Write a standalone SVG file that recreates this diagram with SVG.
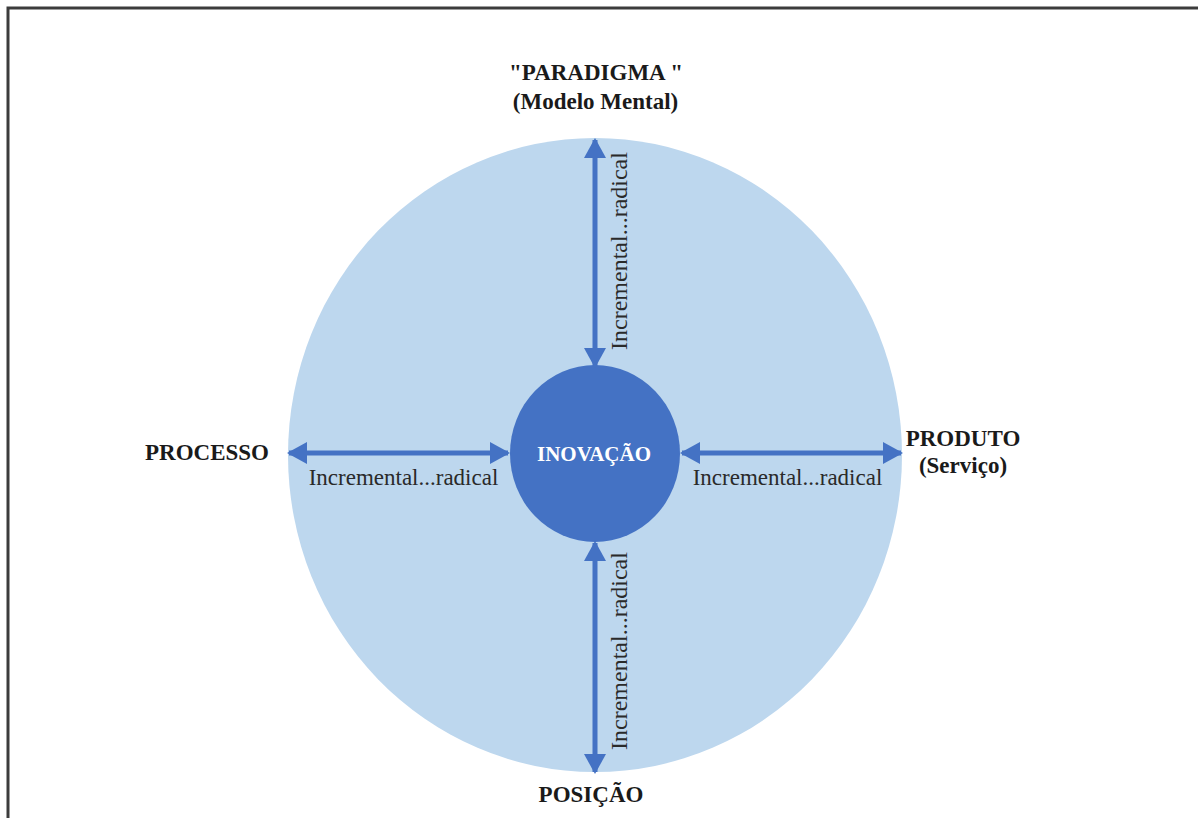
<svg xmlns="http://www.w3.org/2000/svg" width="1198" height="818" viewBox="0 0 1198 818">
  <style>
    .lbl { font-family: "Liberation Serif", "Times New Roman", serif; font-weight: bold; font-size: 23px; fill: #1a1a1a; text-anchor: middle; }
    .scale { font-family: "Liberation Serif", "Times New Roman", serif; font-size: 23px; fill: #2a2a2a; text-anchor: middle; }
    .vscale { font-size: 24px; }
    .core { font-family: "Liberation Serif", "Times New Roman", serif; font-weight: bold; font-size: 21px; fill: #ffffff; text-anchor: middle; }
    .axis { stroke: #4472C4; stroke-width: 5; fill: none; }
  </style>
  <defs>
    <marker id="head" viewBox="0 0 20 22" refX="18" refY="11" markerWidth="20" markerHeight="22" markerUnits="userSpaceOnUse" orient="auto-start-reverse">
      <path d="M0,0 L20,11 L0,22 Z" fill="#4472C4"/>
    </marker>
  </defs>

  <rect width="1198" height="818" fill="#ffffff"/>
  <!-- frame (top and left edges) -->
  <path d="M8,818 V8 H1198" fill="none" stroke="#3c3c3c" stroke-width="3"/>

  <g id="field">
    <ellipse cx="595" cy="455" rx="307" ry="317" fill="#BDD7EE"/>
  </g>

  <g id="inovacao">
    <ellipse cx="595" cy="453.5" rx="85" ry="88.5" fill="#4472C4"/>
    <text class="core" x="594" y="461">INOVAÇÃO</text>
  </g>

  <g id="connectors">
    <line class="axis" x1="595" y1="140" x2="595" y2="366" marker-start="url(#head)" marker-end="url(#head)"/>
    <line class="axis" x1="595" y1="543" x2="595" y2="772" marker-start="url(#head)" marker-end="url(#head)"/>
    <line class="axis" x1="289" y1="453" x2="508" y2="453" marker-start="url(#head)" marker-end="url(#head)"/>
    <line class="axis" x1="682" y1="453" x2="901" y2="453" marker-start="url(#head)" marker-end="url(#head)"/>
    <text class="scale vscale" transform="translate(627,251) rotate(-90)">Incremental...radical</text>
    <text class="scale vscale" transform="translate(627,651) rotate(-90)">Incremental...radical</text>
    <text class="scale" x="403.5" y="485">Incremental...radical</text>
    <text class="scale" x="787.5" y="485">Incremental...radical</text>
  </g>

  <g id="paradigma">
    <text class="lbl" x="596" y="80">"PARADIGMA "</text>
    <text class="lbl" x="595.5" y="109">(Modelo Mental)</text>
  </g>

  <g id="processo">
    <text class="lbl" x="207" y="460">PROCESSO</text>
  </g>

  <g id="produto">
    <text class="lbl" x="963" y="446">PRODUTO</text>
    <text class="lbl" x="963" y="473">(Serviço)</text>
  </g>

  <g id="posicao">
    <text class="lbl" x="591" y="802">POSIÇÃO</text>
  </g>
</svg>
